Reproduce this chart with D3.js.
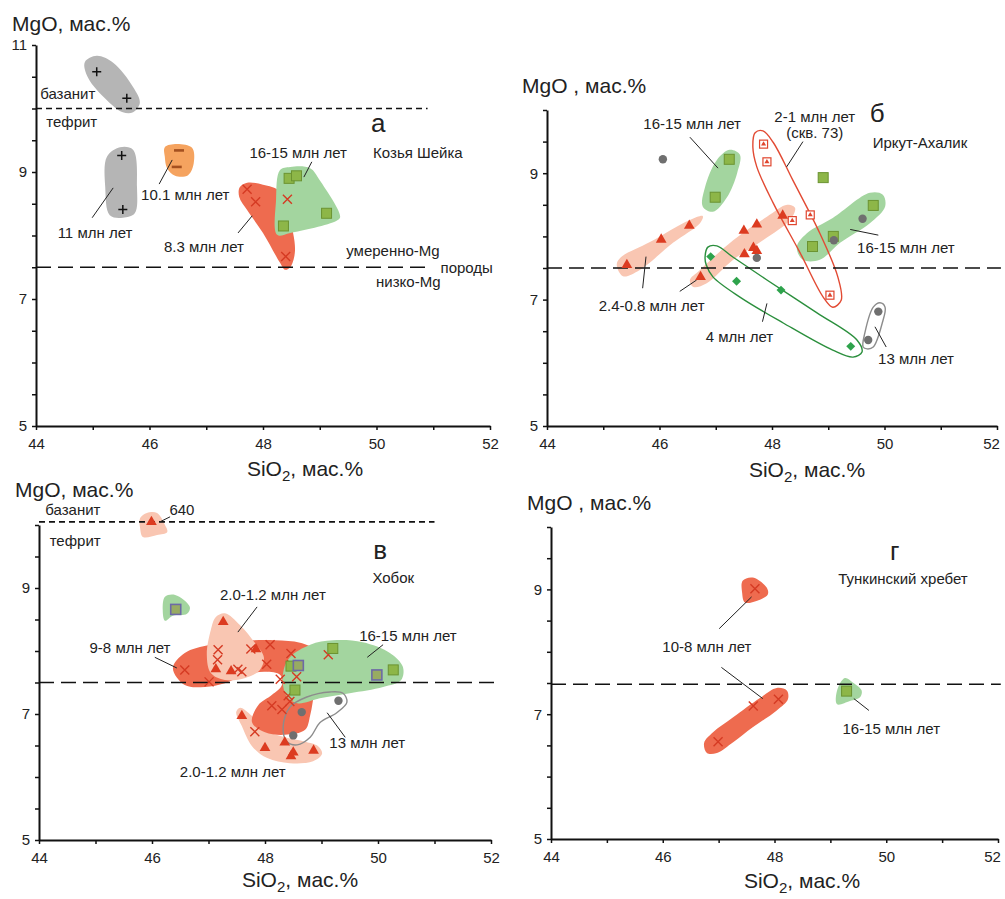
<!DOCTYPE html>
<html>
<head>
<meta charset="utf-8">
<script src="https://cdn.jsdelivr.net/npm/d3@7"></script>
<style>
  body { margin: 0; background: #fff; }
  svg { font-family: "Liberation Sans", Arial, sans-serif; }
</style>
</head>
<body>
<div id="chart"></div>
<script>
// ---------- а: Козья Шейка ----------
const aPlus   = [[45.07,10.58],[45.60,10.16],[45.51,9.26],[45.53,8.41]];
const aMinus  = [[46.52,9.34],[46.48,9.08]];
const aCross  = [[47.72,8.73],[47.87,8.53],[48.43,8.57],[48.40,7.67]];
const aSquare = [[48.46,8.90],[48.59,8.94],[49.12,8.35],[48.36,8.15]];
const aHullGrayHigh = [[44.86,10.73],[45.07,10.83],[45.36,10.72],[45.71,10.34],[45.83,10.09],[45.71,9.94],[45.53,9.94],[45.25,10.13],[44.92,10.48]];
const aHullGrayLow  = [[45.25,9.24],[45.48,9.39],[45.71,9.35],[45.78,8.76],[45.74,8.35],[45.53,8.28],[45.30,8.32],[45.22,8.76]];
const aHullOrange   = [[46.27,9.39],[46.48,9.44],[46.75,9.38],[46.78,9.14],[46.68,8.95],[46.45,8.94],[46.31,9.06],[46.27,9.24]];
const aHullRed      = [[47.59,8.76],[47.72,8.83],[48.00,8.80],[48.30,8.69],[48.53,8.04],[48.56,7.72],[48.48,7.50],[48.39,7.46],[48.30,7.57],[48.00,8.04],[47.72,8.40],[47.58,8.61]];
const aHullGreen    = [[48.30,9.03],[48.48,9.08],[48.83,9.06],[49.00,8.87],[49.36,8.29],[49.29,8.23],[48.48,8.04],[48.25,8.01],[48.23,8.56]];
const aText = [["базанит",44.56,10.23],["тефрит",44.63,9.80],["16-15 млн лет",48.62,9.30],["Козья Шейка",50.73,9.30],
  ["10.1 млн лет",46.63,8.64],["11 млн лет",45.04,8.04],["8.3 млн лет",46.96,7.83],["умеренно-Mg",50.29,7.77],["породы",51.59,7.50],["низко-Mg",50.56,7.27]];
const aLetter = ["а",50.03,9.77];
const aLeaders = [[48.72,8.92,48.86,9.16],[46.17,8.81,46.40,9.19],[44.99,8.28,45.36,8.75],[47.56,8.04,47.81,8.31]];
const aBounds = [[10.0,50.9,"short"],[7.5,50.9,"long"]];

// ---------- б: Иркут-Ахалик ----------
const bCircle   = [[46.06,9.22],[47.73,7.66],[49.10,7.94],[49.61,8.28],[49.89,6.81],[49.71,6.36]];
const bSquare   = [[47.24,9.22],[46.99,8.62],[48.91,8.93],[49.80,8.49],[49.09,8.00],[48.72,7.84]];
const bTriangle = [[45.42,7.55],[46.03,7.95],[46.53,8.17],[46.73,7.36],[47.50,8.09],[47.73,8.19],[47.51,7.72],[47.67,7.82],[47.73,7.77],[48.19,8.33]];
const bWell73   = [[47.85,9.46],[47.91,9.18],[48.36,8.25],[48.68,8.34],[49.03,7.07]];
const bDiamond  = [[46.91,7.68],[47.37,7.29],[48.16,7.15],[49.40,6.26]];
const bHullGreenTop   = [[46.77,8.47],[46.81,8.78],[47.02,9.21],[47.25,9.37],[47.43,9.29],[47.38,9.00],[47.20,8.62],[46.95,8.39]];
const bHullSalmonLeft = [[45.24,7.55],[45.30,7.66],[45.83,7.91],[46.54,8.26],[46.77,8.32],[46.72,8.21],[46.24,7.90],[45.65,7.47],[45.35,7.37]];
const bHullSalmonMid  = [[46.54,7.31],[46.72,7.47],[47.31,7.94],[47.91,8.31],[48.27,8.50],[48.41,8.45],[48.32,8.26],[47.84,7.94],[47.31,7.63],[46.84,7.26],[46.60,7.20]];
const bHullGreenRight = [[48.44,7.83],[48.62,8.05],[49.08,8.29],[49.74,8.69],[49.97,8.66],[50.01,8.47],[49.74,8.21],[49.21,7.90],[48.85,7.63],[48.55,7.63]];
const bRingWell73 = [[47.70,9.64],[47.84,9.67],[48.02,9.49],[48.37,8.89],[48.85,8.05],[49.17,7.36],[49.23,6.99],[49.08,6.88],[48.91,7.04],[48.50,7.74],[48.02,8.53],[47.73,9.10],[47.66,9.41]];
const bRing4  = [[46.81,7.67],[46.86,7.83],[47.02,7.85],[47.31,7.67],[47.91,7.31],[48.80,6.79],[49.51,6.36],[49.60,6.17],[49.44,6.09],[49.08,6.20],[48.20,6.63],[47.43,7.04],[46.95,7.36],[46.83,7.55]];
const bRing13 = [[49.62,6.25],[49.65,6.47],[49.80,6.88],[49.92,6.95],[50.01,6.88],[49.96,6.63],[49.80,6.25],[49.69,6.22]];
const bText = [["16-15 млн лет",46.58,9.78],["2-1 млн лет",48.76,9.89],["(скв. 73)",48.76,9.64],["Иркут-Ахалик",50.63,9.49],
  ["16-15 млн лет",50.38,7.83],["2.4-0.8 млн лет",45.86,6.90],["4 млн лет",47.42,6.42],["13 млн лет",50.56,6.07]];
const bLetter = ["б",49.87,9.95];
const bLeaders = [[46.54,9.57,47.04,9.08],[48.55,9.50,48.26,9.10],[49.39,8.11,49.89,8.02],[45.70,7.18,45.76,7.68],
  [46.36,7.13,46.66,7.31],[47.83,6.65,47.91,6.94],[50.03,6.25,49.83,6.57]];
const bBounds = [[7.5,52.07,"long"]];

// ---------- в: Хобок ----------
const vTriangle = [[45.99,10.05],[47.26,8.46],[47.84,8.03],[47.13,7.71],[47.40,7.68],[47.59,6.97],[48.00,6.46],[48.35,6.55],[48.46,6.33],[48.50,6.39],[48.86,6.42]];
const vCross = [[46.58,7.70],[47.01,7.51],[47.17,8.02],[47.16,7.86],[47.75,8.03],[47.52,7.71],[47.59,7.67],[48.09,8.10],[48.03,7.79],[48.46,7.96],
  [48.47,7.78],[48.56,7.59],[48.27,7.55],[49.12,7.94],[48.41,7.29],[48.44,7.20],[48.12,7.13],[48.30,7.07],[47.82,6.72]];
const vSquare = [[48.46,7.76],[48.53,7.38],[49.20,8.04],[50.27,7.70]];
const vSquareRim = [[46.42,8.66],[48.59,7.77],[49.98,7.62]];
const vCircle = [[48.65,7.03],[49.30,7.21],[48.50,6.66]];
const vHull640 = [[45.79,10.11],[45.91,10.19],[46.09,10.19],[46.23,10.00],[46.27,9.89],[46.09,9.84],[45.84,9.81],[45.79,9.95]];
const vHullGreenSmall = [[46.23,8.86],[46.41,8.89],[46.67,8.70],[46.62,8.59],[46.37,8.56],[46.23,8.48],[46.19,8.65]];
const vHullRed = [[46.37,7.73],[46.58,7.97],[47.03,8.10],[47.56,8.16],[48.18,8.17],[48.62,8.13],[48.88,8.02],[48.97,7.78],[48.88,7.38],[48.80,6.98],
  [48.71,6.75],[48.35,6.67],[48.00,6.71],[47.77,6.87],[47.88,7.14],[48.12,7.30],[48.30,7.46],[48.27,7.62],[48.00,7.67],[47.65,7.62],[47.29,7.49],[46.94,7.43],[46.58,7.46]];
const vHullSalmonUp = [[47.29,8.60],[47.56,8.41],[47.82,8.13],[47.98,7.90],[47.91,7.70],[47.65,7.57],[47.29,7.54],[47.04,7.65],[46.97,7.94],[47.04,8.33],[47.13,8.54]];
const vHullSalmonLow = [[47.56,7.10],[47.77,6.97],[48.00,6.75],[48.35,6.63],[48.71,6.56],[48.94,6.49],[49.01,6.37],[48.85,6.25],[48.44,6.22],[48.04,6.30],[47.77,6.49],[47.59,6.81],[47.49,7.03]];
const vHullGreen = [[48.32,7.65],[48.44,7.90],[48.80,8.10],[49.20,8.17],[49.73,8.14],[50.21,7.97],[50.44,7.75],[50.41,7.54],[50.09,7.43],[49.50,7.33],[48.97,7.25],[48.57,7.17],[48.37,7.30]];
const vRing13 = [[48.32,6.79],[48.44,7.11],[48.74,7.27],[49.15,7.35],[49.38,7.33],[49.45,7.19],[49.27,7.02],[48.97,6.86],[48.80,6.63],[48.57,6.51],[48.39,6.56]];
const vText = [["базанит",44.60,10.24],["тефрит",44.64,9.75],["640",46.53,10.25],["Хобок",50.27,9.17],["2.0-1.2 млн лет",48.14,8.89],
  ["9-8 млн лет",45.61,8.06],["16-15 млн лет",50.53,8.25],["13 млн лет",49.81,6.54],["2.0-1.2 млн лет",47.43,6.08]];
const vLetter = ["в",50.04,9.60];
const vLeaders = [[46.14,10.05,46.32,10.13],[47.86,8.70,47.52,8.30],[46.05,7.90,46.44,7.73],[50.09,8.10,49.81,7.90],[49.42,6.63,49.10,7.02]];
const vBounds = [[10.05,51.0,"short"],[7.5,52.1,"long"]];

// ---------- г: Тункинский хребет ----------
const gCross  = [[47.65,9.01],[47.62,7.13],[48.07,7.24],[46.99,6.56]];
const gSquare = [[49.29,7.37]];
const gHullRedTop  = [[47.43,9.14],[47.61,9.19],[47.86,9.03],[47.88,8.92],[47.69,8.82],[47.47,8.79],[47.42,8.95]];
const gHullRedBand = [[46.79,6.38],[46.74,6.54],[46.90,6.71],[47.26,6.95],[47.74,7.26],[48.04,7.42],[48.22,7.38],[48.24,7.24],[48.04,7.06],[47.61,6.79],[47.26,6.55],[46.97,6.38]];
const gHullGreen   = [[49.12,7.16],[49.12,7.38],[49.26,7.58],[49.40,7.51],[49.56,7.38],[49.53,7.27],[49.35,7.21]];
const gText = [["Тункинский хребет",50.30,9.18],["10-8 млн лет",46.79,8.08],["16-15 млн лет",50.09,6.77]];
const gLetter = ["г",50.15,9.62];
const gLeaders = [[47.01,8.37,47.59,8.88],[47.05,7.75,47.79,7.25],[49.69,7.06,49.42,7.25]];
const gBounds = [[7.48,52.05,"long"]];

const xTicks = d3.range(44, 52.01, 1);

// colours
const C = {
  gray: "#b5b5b5", orange: "#f5a35f", red: "#ee6b4f", green: "#a3d59f", salmon: "#f9c6b2",
  mark: "#dc3b20", sq: "#8db648", sqEdge: "#6b9331", dot: "#6f6f6f", dia: "#2ea34c"
};

const svg = d3.select("#chart").append("svg").attr("width", 1005).attr("height", 899);

const panels = [
  { left: 36, right: 490, top: 45, bottom: 426, yMax: 11,
    fills: [[aHullGrayHigh, C.gray], [aHullGrayLow, C.gray], [aHullOrange, C.orange], [aHullRed, C.red], [aHullGreen, C.green]],
    rings: [],
    marks: [["plus", aPlus], ["minus", aMinus], ["cross", aCross], ["square", aSquare]],
    text: aText, letter: aLetter, leaders: aLeaders, bounds: aBounds,
    yTitle: ["MgO, мас.%", 12, 31], xTitle: [305, 476] },
  { left: 547, right: 997, top: 110, bottom: 426, yMax: 10,
    fills: [[bHullSalmonLeft, C.salmon], [bHullSalmonMid, C.salmon], [bHullGreenTop, C.green], [bHullGreenRight, C.green]],
    rings: [[bRingWell73, "#e24a33"], [bRing4, "#2b8f3d"], [bRing13, "#8c8c8c"]],
    marks: [["triangle", bTriangle], ["square", bSquare], ["circle", bCircle], ["well", bWell73], ["diamond", bDiamond]],
    text: bText, letter: bLetter, leaders: bLeaders, bounds: bBounds,
    yTitle: ["MgO , мас.%", 522, 93], xTitle: [807, 477] },
  { left: 39, right: 491, top: 525, bottom: 840, yMax: 10,
    fills: [[vHull640, C.salmon], [vHullGreenSmall, C.green], [vHullSalmonLow, C.salmon], [vHullRed, C.red], [vHullSalmonUp, C.salmon], [vHullGreen, C.green]],
    rings: [[vRing13, "#8c8c8c"]],
    marks: [["cross", vCross], ["triangle", vTriangle], ["square", vSquare], ["squareRim", vSquareRim], ["circle", vCircle]],
    text: vText, letter: vLetter, leaders: vLeaders, bounds: vBounds,
    yTitle: ["MgO, мас.%", 15, 497], xTitle: [300, 887] },
  { left: 551, right: 998, top: 527, bottom: 839, yMax: 10,
    fills: [[gHullRedTop, C.red], [gHullRedBand, C.red], [gHullGreen, C.green]],
    rings: [],
    marks: [["cross", gCross], ["square", gSquare]],
    text: gText, letter: gLetter, leaders: gLeaders, bounds: gBounds,
    yTitle: ["MgO , мас.%", 527, 510], xTitle: [802, 888] }
];

function drawMark(g, kind, px, py) {
  const m = g.append("g").attr("transform", `translate(${px},${py})`);
  if (kind === "plus") {
    m.append("path").attr("d", "M-4.5,0H4.5M0,-4.5V4.5").attr("stroke", "#111").attr("stroke-width", 1.5);
  } else if (kind === "minus") {
    m.append("path").attr("d", "M-5,0H5").attr("stroke", "#a4501f").attr("stroke-width", 2.6);
  } else if (kind === "cross") {
    m.append("path").attr("d", "M-4.5,-4.5L4.5,4.5M-4.5,4.5L4.5,-4.5").attr("stroke", "#d53a23").attr("stroke-width", 1.4);
  } else if (kind === "square") {
    m.append("rect").attr("x", -5).attr("y", -5).attr("width", 10).attr("height", 10)
      .attr("fill", C.sq).attr("stroke", C.sqEdge).attr("stroke-width", 1);
  } else if (kind === "squareRim") {
    m.append("rect").attr("x", -5).attr("y", -5).attr("width", 10).attr("height", 10)
      .attr("fill", "#98ab62").attr("stroke", "#6d6aa6").attr("stroke-width", 1.6);
  } else if (kind === "triangle") {
    m.append("path").attr("d", d3.symbol(d3.symbolTriangle, 50)()).attr("fill", C.mark);
  } else if (kind === "circle") {
    m.append("circle").attr("r", 4.2).attr("fill", C.dot);
  } else if (kind === "diamond") {
    m.append("path").attr("d", d3.symbol(d3.symbolSquare, 40)()).attr("transform", "rotate(45)").attr("fill", C.dia);
  } else if (kind === "well") {
    m.append("rect").attr("x", -4).attr("y", -4).attr("width", 8).attr("height", 8)
      .attr("fill", "#fff").attr("stroke", "#e0452e").attr("stroke-width", 1.2);
    m.append("path").attr("d", d3.symbol(d3.symbolTriangle, 11)()).attr("fill", "#e0452e");
  }
}

panels.forEach(p => {
  const x = d3.scaleLinear().domain([44, 52]).range([p.left, p.right]);
  const y = d3.scaleLinear().domain([5, p.yMax]).range([p.bottom, p.top]);
  const g = svg.append("g");
  const blob = d3.line().x(d => x(d[0])).y(d => y(d[1])).curve(d3.curveCatmullRomClosed.alpha(0.5));

  // filled fields
  p.fills.forEach(([pts, col]) => g.append("path").attr("d", blob(pts)).attr("fill", col));
  // outlined fields
  p.rings.forEach(([pts, col]) => g.append("path").attr("d", blob(pts))
    .attr("fill", "none").attr("stroke", col).attr("stroke-width", 1.4));

  // boundary lines (basanite/tephrite and moderate/low-Mg)
  p.bounds.forEach(([v, xEnd, kind]) => {
    g.append("line").attr("x1", x(44)).attr("x2", x(xEnd)).attr("y1", y(v)).attr("y2", y(v))
      .attr("stroke", "#111").attr("stroke-width", 1.6)
      .attr("stroke-dasharray", kind === "short" ? "6,4" : "15,7");
  });

  // axes
  const yTicks = d3.range(5, p.yMax + 0.01, 0.5);
  const ya = g.append("g").attr("transform", `translate(${p.left},0)`)
    .call(d3.axisLeft(y).tickValues(yTicks).tickSizeInner(4).tickSizeOuter(0).tickPadding(5)
      .tickFormat(d => (d % 2 === 1 ? d : "")));
  const xa = g.append("g").attr("transform", `translate(0,${p.bottom})`)
    .call(d3.axisBottom(x).tickValues(xTicks).tickSizeInner(4).tickSizeOuter(0).tickPadding(8)
      .tickFormat(d => (d % 2 === 0 ? d : "")));
  [ya, xa].forEach(a => {
    a.select(".domain").attr("stroke", "#111").attr("stroke-width", 2);
    a.selectAll(".tick line").attr("stroke", "#111").attr("stroke-width", 1.5);
    a.selectAll(".tick text").attr("font-size", 15).attr("fill", "#222")
      .attr("font-family", '"Liberation Sans", Arial, sans-serif');
  });
  // keep the last x label inside the page
  xa.selectAll(".tick text").filter(d => d === 52 && p.right > 990).attr("dx", -6);

  // leaders
  p.leaders.forEach(([x1, y1, x2, y2]) => g.append("line")
    .attr("x1", x(x1)).attr("y1", y(y1)).attr("x2", x(x2)).attr("y2", y(y2))
    .attr("stroke", "#222").attr("stroke-width", 1));

  // points
  p.marks.forEach(([kind, pts]) => pts.forEach(d => drawMark(g, kind, x(d[0]), y(d[1]))));

  // annotations
  p.text.forEach(([t, tx, ty]) => g.append("text").attr("x", x(tx)).attr("y", y(ty))
    .attr("text-anchor", "middle").attr("dominant-baseline", "central")
    .attr("font-size", 15).attr("fill", "#222").text(t));
  g.append("text").attr("x", x(p.letter[1])).attr("y", y(p.letter[2]))
    .attr("text-anchor", "middle").attr("dominant-baseline", "central")
    .attr("font-size", 26).attr("fill", "#222").text(p.letter[0]);

  // axis titles
  g.append("text").attr("x", p.yTitle[1]).attr("y", p.yTitle[2])
    .attr("font-size", 21).attr("fill", "#222").text(p.yTitle[0]);
  const xt = g.append("text").attr("x", p.xTitle[0]).attr("y", p.xTitle[1])
    .attr("text-anchor", "middle").attr("font-size", 21).attr("fill", "#222");
  xt.append("tspan").text("SiO");
  xt.append("tspan").attr("font-size", 15).attr("dy", 5).text("2");
  xt.append("tspan").attr("dy", -5).text(", мас.%");
});
</script>
</body>
</html>
